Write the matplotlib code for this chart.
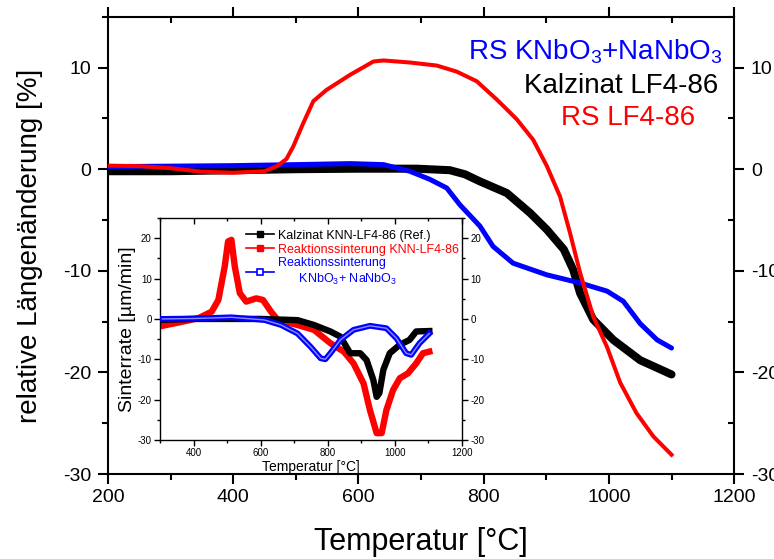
"""
Dilatometer curves: relative length change vs temperature,
with an inset of the sinter rate.
"""
import matplotlib
matplotlib.use("Agg")
import matplotlib.pyplot as plt
from matplotlib.lines import Line2D
from matplotlib.ticker import MultipleLocator

plt.rcParams['font.family'] = ['Liberation Sans', 'DejaVu Sans']
plt.rcParams['mathtext.fontset'] = 'custom'
plt.rcParams['mathtext.rm'] = 'Liberation Sans'
plt.rcParams['mathtext.it'] = 'Liberation Sans:italic'
plt.rcParams['axes.unicode_minus'] = False

# main plot: relative length change [%]
rs_lf_T = [200, 250, 300, 350, 400, 450, 470, 485, 496, 512, 528, 549, 587, 624, 640,
           682, 725, 757, 789, 821, 840, 853, 879, 901, 922, 938, 954, 975, 997, 1018,
           1044, 1071, 1100]
rs_lf_dl = [0.35, 0.3, 0.1, -0.25, -0.35, -0.2, 0.3, 1.0, 2.25, 4.55, 6.7, 7.8, 9.3, 10.6, 10.7,
            10.5, 10.2, 9.6, 8.65, 6.85, 5.7, 4.9, 2.9, 0.3, -2.7, -6.3, -10.2, -14.5, -17.5, -21.0,
            -24.0, -26.3, -28.1]

kalz_T = [200, 300, 400, 500, 600, 693, 746, 770, 794, 837, 874, 901, 928, 943, 954, 975,
          1007, 1050, 1100]
kalz_dl = [-0.2, -0.2, -0.1, 0.0, 0.05, 0.05, -0.1, -0.5, -1.2, -2.35, -4.3, -5.95, -7.9, -9.9,
           -12.2, -14.8, -16.8, -18.8, -20.2]

rs_kn_T = [200, 300, 400, 500, 587, 640, 682, 714, 741, 762, 794, 815, 847, 901, 954, 997,
           1023, 1050, 1077, 1100]
rs_kn_dl = [0.25, 0.3, 0.35, 0.45, 0.55, 0.45, -0.2, -1.0, -1.85, -3.5, -5.6, -7.6, -9.25,
            -10.4, -11.2, -12.0, -13.0, -15.2, -16.8, -17.6]

# inset: sinter rate [um/min]
in_red_T = [307, 366, 415, 454, 474, 493, 503, 513, 523, 538, 557, 587, 607, 631, 651, 710,
            759, 808, 848, 877, 907, 926, 946, 961, 975, 995, 1015, 1039, 1064, 1084, 1103]
in_red_r = [-1.7, -0.7, 0.2, 1.8, 4.7, 13.0, 19.2, 19.6, 13.0, 6.4, 4.3, 5.1, 4.7, 1.8, -0.25,
            -1.5, -2.7, -6.0, -8.1, -11.0, -16.0, -22.6, -28.3, -28.3, -22.6, -17.6, -14.7,
            -13.5, -11.0, -8.5, -8.1]

in_blk_T = [307, 400, 500, 600, 710, 759, 808, 838, 867, 897, 916, 936, 946, 954, 966, 985,
            1015, 1044, 1064, 1103]
in_blk_r = [-0.2, 0.0, 0.0, 0.0, -0.3, -1.5, -3.1, -4.4, -8.5, -8.5, -10.2, -15.1, -19.3,
            -18.4, -12.6, -8.5, -6.4, -5.2, -3.1, -3.0]

in_blu_T = [307, 400, 513, 611, 661, 710, 749, 779, 793, 808, 838, 877, 926, 975, 1005, 1034,
            1049, 1074, 1103]
in_blu_r = [0.0, 0.1, 0.4, -0.25, -1.5, -3.6, -6.9, -9.75, -10.0, -8.5, -5.2, -2.7, -1.7,
            -2.3, -4.8, -8.5, -8.9, -6.0, -3.6]

main_labels = ['RS KNbO$_3$+NaNbO$_3$', 'Kalzinat LF4-86', 'RS LF4-86']
inset_labels = ['Kalzinat KNN-LF4-86 (Ref.)', 'Reaktionssinterung KNN-LF4-86',
                'Reaktionssinterung\n      KNbO$_3$+ NaNbO$_3$']

RED = '#ff0000'
BLUE = '#0000ff'


def style_axes(ax, lw, major, minor, size):
    for sp in ax.spines.values():
        sp.set_linewidth(lw)
    ax.tick_params(axis='both', which='both', width=lw, labelsize=size)
    ax.tick_params(axis='both', which='major', length=major)
    ax.tick_params(axis='both', which='minor', length=minor)
    ax.tick_params(axis='x', which='both', bottom=True, top=True)
    ax.tick_params(axis='y', which='both', left=True, right=True, labelright=True)


fig = plt.figure(figsize=(7.74, 5.59), dpi=100)
ax = fig.add_axes([0.1395, 0.152, 0.809, 0.818])

ax.plot(kalz_T, kalz_dl, color='black', lw=5.8, solid_capstyle='round', zorder=2)
ax.plot(rs_kn_T, rs_kn_dl, color=BLUE, lw=3.6, solid_capstyle='round', zorder=3)
ax.plot(rs_lf_T, rs_lf_dl, color=RED, lw=2.9, zorder=4)

ax.set_xlim(200, 1200)
ax.set_ylim(-30, 15)
ax.xaxis.set_major_locator(MultipleLocator(200))
ax.xaxis.set_minor_locator(MultipleLocator(100))
ax.yaxis.set_major_locator(MultipleLocator(10))
ax.yaxis.set_minor_locator(MultipleLocator(5))
style_axes(ax, 1.5, 7, 4, 14)
ax.tick_params(which='both', direction='out')
# top / right ticks point inwards
for t in ax.xaxis.get_major_ticks() + ax.xaxis.get_minor_ticks():
    t.tick2line.set_marker(3)
for t in ax.yaxis.get_major_ticks() + ax.yaxis.get_minor_ticks():
    t.tick2line.set_marker(0)
ax.tick_params(axis='y', which='major', pad=5)
ax.tick_params(axis='x', which='major', pad=4)

ax.set_xlabel('Temperatur [°C]', fontsize=22)
ax.set_ylabel('relative Längenänderung [%]', fontsize=20)
ax.xaxis.set_label_coords(0.5, -0.116)
ax.yaxis.set_label_coords(-0.104, 0.5)

text_pos = [(0.981, 0.923), (0.974, 0.849), (0.938, 0.779)]
for lab, col, (tx, ty) in zip(main_labels, [BLUE, 'black', RED], text_pos):
    ax.text(tx, ty, lab, color=col, fontsize=20, ha='right', va='center',
            transform=ax.transAxes)

# inset
ins = fig.add_axes([0.2067, 0.2129, 0.390, 0.397])
ins.plot(in_red_T, in_red_r, color=RED, lw=4.6, zorder=2)
ins.plot(in_blk_T, in_blk_r, color='black', lw=4.6, zorder=3)
ins.plot(in_blu_T, in_blu_r, color=BLUE, lw=4.2, zorder=4)
ins.plot(in_blu_T, in_blu_r, color='#8c8cff', lw=1.0, zorder=5)

ins.set_xlim(300, 1200)
ins.set_ylim(-30, 25)
ins.xaxis.set_major_locator(MultipleLocator(200))
ins.xaxis.set_minor_locator(MultipleLocator(100))
ins.yaxis.set_major_locator(MultipleLocator(10))
ins.yaxis.set_minor_locator(MultipleLocator(5))
style_axes(ins, 1.0, 4, 2.5, 7)
ins.tick_params(which='both', direction='out', pad=2)
for t in ins.xaxis.get_major_ticks() + ins.xaxis.get_minor_ticks():
    t.tick2line.set_marker(3)
ins.set_xlabel('Temperatur [°C]', fontsize=10, labelpad=1)
ins.set_ylabel('Sinterrate [µm/min]', fontsize=14)
ins.yaxis.set_label_coords(-0.078, 0.5)

handles = [
    Line2D([], [], color='black', lw=1.2, marker='s', ms=4.5, mfc='black', mec='black'),
    Line2D([], [], color=RED, lw=1.2, marker='s', ms=4.5, mfc=RED, mec=RED),
    Line2D([], [], color=BLUE, lw=1.2, marker='s', ms=4.5, mfc='white', mec=BLUE, mew=1.2),
]
leg = ins.legend(handles, inset_labels, loc='upper left', bbox_to_anchor=(0.27, 0.97),
                 frameon=False, fontsize=9, handlelength=2.2, handletextpad=0.3,
                 labelspacing=0.15, borderaxespad=0)
for txt, col in zip(leg.get_texts(), ['black', RED, BLUE]):
    txt.set_color(col)

fig.savefig('out.png', dpi=100)
